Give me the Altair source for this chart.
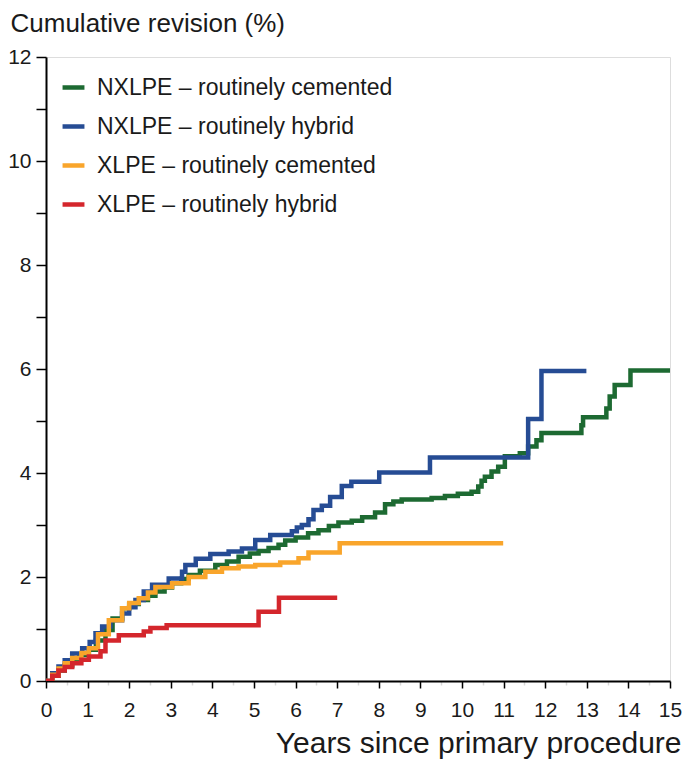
import altair as alt
import pandas as pd

series_names = [
    "NXLPE – routinely cemented",
    "NXLPE – routinely hybrid",
    "XLPE – routinely cemented",
    "XLPE – routinely hybrid",
]
series_colors = ["#1D6A32", "#264C94", "#F9A52B", "#D4262C"]

nx_cem_x = [0, 0.15, 0.3, 0.45, 0.63, 0.8, 1.03, 1.2, 1.43, 1.6, 1.83, 2.0, 2.23, 2.45, 2.63, 2.85,
            3.03, 3.25, 3.43, 3.7, 4.07, 4.35, 4.63, 4.9, 5.11, 5.35, 5.59, 5.75, 6.0, 6.3, 6.55, 6.8,
            7.03, 7.35, 7.6, 7.91, 8.15, 8.35, 8.55, 9.27, 9.59, 9.9, 10.23, 10.39, 10.47, 10.55, 10.71,
            10.87, 11.03, 11.39, 11.59, 11.79, 11.91, 12.87, 12.91, 13.47, 13.55, 13.67, 14.05, 15]
nx_cem_y = [0, 0.1, 0.2, 0.3, 0.4, 0.5, 0.6, 0.78, 0.98, 1.2, 1.4, 1.48, 1.56, 1.64, 1.72, 1.8,
            1.88, 1.96, 2.04, 2.12, 2.23, 2.3, 2.39, 2.45, 2.5, 2.56, 2.62, 2.7, 2.76, 2.84, 2.9, 2.98,
            3.05, 3.08, 3.15, 3.24, 3.4, 3.45, 3.49, 3.52, 3.56, 3.6, 3.64, 3.74, 3.85, 3.93, 4.03,
            4.12, 4.32, 4.38, 4.51, 4.63, 4.77, 4.92, 5.07, 5.24, 5.47, 5.69, 5.97, 5.97]

nx_hyb_x = [0, 0.15, 0.3, 0.45, 0.63, 0.87, 1.05, 1.19, 1.35, 1.55, 1.83, 2.0, 2.15, 2.35, 2.55, 2.95,
            3.27, 3.35, 3.6, 3.95, 4.39, 4.71, 5.03, 5.39, 5.91, 6.03, 6.15, 6.31, 6.43, 6.63, 6.83,
            7.11, 7.34, 8.01, 9.23, 11.59, 11.91, 12.99]
nx_hyb_y = [0, 0.15, 0.28, 0.4, 0.53, 0.63, 0.75, 0.92, 1.05, 1.17, 1.3, 1.42, 1.56, 1.72, 1.85, 1.97,
            2.1, 2.23, 2.35, 2.44, 2.49, 2.55, 2.71, 2.81, 2.88, 2.95, 3.0, 3.11, 3.29, 3.37, 3.54,
            3.75, 3.83, 4.01, 4.30, 5.04, 5.96, 5.96]

x_cem_x = [0, 0.15, 0.3, 0.45, 0.63, 0.85, 1.03, 1.25, 1.51, 1.83, 2.0, 2.23, 2.45, 2.63, 3.03, 3.43,
           3.83, 4.23, 4.63, 5.03, 5.63, 6.07, 6.31, 7.06, 10.99]
x_cem_y = [0, 0.12, 0.24, 0.34, 0.44, 0.54, 0.63, 0.9, 1.17, 1.4, 1.5, 1.59, 1.7, 1.81, 1.88, 2.0,
           2.1, 2.17, 2.2, 2.23, 2.28, 2.36, 2.47, 2.65, 2.65]

x_hyb_x = [0, 0.15, 0.3, 0.45, 0.63, 0.85, 1.03, 1.31, 1.43, 1.75, 2.35, 2.51, 2.9, 5.11, 5.6, 7.0]
x_hyb_y = [0, 0.1, 0.2, 0.27, 0.34, 0.41, 0.47, 0.57, 0.78, 0.88, 0.95, 1.02, 1.07, 1.33, 1.6, 1.6]

x_ticks = [i * 0.5 for i in range(0, 31)]
y_ticks = list(range(0, 13))

rows = []
for name, xs, ys in zip(series_names,
                        [nx_cem_x, nx_hyb_x, x_cem_x, x_hyb_x],
                        [nx_cem_y, nx_hyb_y, x_cem_y, x_hyb_y]):
    for i, (a, b) in enumerate(zip(xs, ys)):
        rows.append({"series": name, "years": a, "rev": b, "order": i})
df = pd.DataFrame(rows)

FONT = "Liberation Sans"
TXT = "#1a1a1a"

chart = alt.Chart(df).mark_line(interpolate="step-after", strokeWidth=4.5, clip=True).encode(
    x=alt.X("years:Q",
            scale=alt.Scale(domain=[0, 15], nice=False, zero=True),
            axis=alt.Axis(values=x_ticks, title="Years since primary procedure", grid=False,
                          labelExpr="datum.value % 1 == 0 ? format(datum.value, 'd') : ''",
                          domainColor="black", domainWidth=2,
                          tickColor={"condition": {"test": "datum.value % 1 != 0", "value": "#d8d8d8"},
                                     "value": "black"},
                          tickSize={"condition": {"test": "datum.value % 1 != 0", "value": 4},
                                    "value": 7},
                          tickWidth=1.5,
                          labelFontSize=21, labelPadding=11, labelColor=TXT,
                          labelFont=FONT, titleFont=FONT, titleFontSize=30, titleFontWeight="normal",
                          titleColor=TXT, titleAlign="right", titleAnchor="end",
                          titleX=635, titleY=71, titleBaseline="alphabetic", labelFlush=False)),
    y=alt.Y("rev:Q",
            scale=alt.Scale(domain=[0, 12], nice=False),
            axis=alt.Axis(values=y_ticks, title="Cumulative revision (%)", grid=False,
                          labelExpr="datum.value % 2 == 0 ? format(datum.value, 'd') : ''",
                          domainColor="black", domainWidth=2, tickColor="black", tickWidth=1.5,
                          tickSize=10, labelFontSize=21, labelPadding=5, labelColor=TXT,
                          labelFont=FONT, titleFont=FONT, titleFontSize=26, titleFontWeight="normal",
                          titleColor=TXT, titleAngle=0, titleAlign="left", titleBaseline="alphabetic",
                          titleX=-36, titleY=-26)),
    color=alt.Color("series:N",
                    scale=alt.Scale(domain=series_names, range=series_colors),
                    sort=series_names,
                    legend=alt.Legend(title=None, orient="none", legendX=14, legendY=17,
                                      symbolType="stroke", symbolStrokeWidth=4.5, symbolSize=480,
                                      labelFontSize=23, labelFont=FONT, labelColor=TXT,
                                      labelLimit=0, labelOffset=10, rowPadding=13)),
    order="order:Q",
).properties(
    width=624, height=624,
    autosize=alt.AutoSizeParams(type="none"),
    padding={"left": 38, "top": 49, "right": 12, "bottom": 78},
).configure_view(
    fill="#FDEFD2", stroke="#9a9a9a", strokeWidth=1.5
).configure(background="white")

chart.save("out.html", embed_options={"renderer": "svg", "actions": False})
